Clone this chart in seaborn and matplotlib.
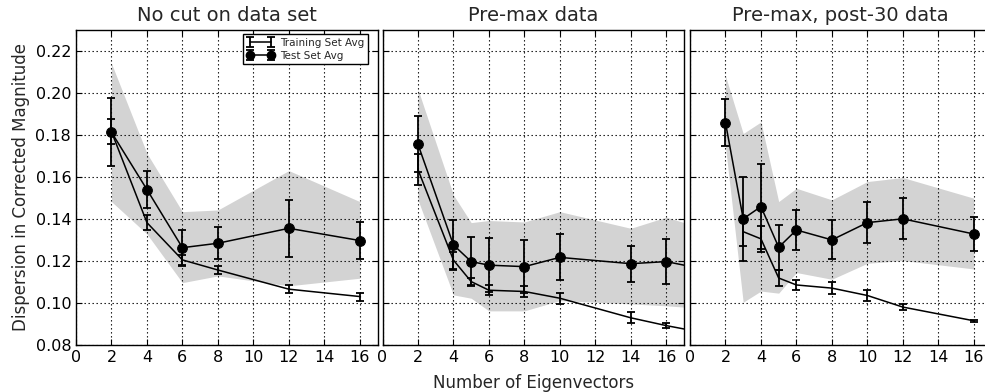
import numpy as np
import matplotlib
matplotlib.use("Agg")
import matplotlib.pyplot as plt
import seaborn as sns

# ---------------- data ----------------
titles = ["No cut on data set", "Pre-max data", "Pre-max, post-30 data"]

# Panel 1: no cut
p1_train_x = [2, 4, 6, 8, 12, 16]
p1_train_y = [0.1815, 0.1383, 0.1206, 0.1158, 0.1067, 0.1032]
p1_train_e = [0.0060, 0.0035, 0.0025, 0.0018, 0.0020, 0.0019]
p1_test_x = [2, 4, 6, 8, 12, 16]
p1_test_y = [0.1812, 0.1540, 0.1264, 0.1285, 0.1356, 0.1298]
p1_test_e = [0.0162, 0.0088, 0.0085, 0.0076, 0.0135, 0.0089]
p1_band_hi = [0.2139, 0.1712, 0.1435, 0.1443, 0.1630, 0.1483]
p1_band_lo = [0.1483, 0.1329, 0.1098, 0.1130, 0.1083, 0.1119]

# Panel 2: pre-max
p2_train_x = [2, 4, 5, 6, 8, 10, 14, 16, 18]
p2_train_y = [0.1635, 0.1205, 0.1103, 0.1062, 0.1056, 0.1024, 0.0931, 0.0894, 0.0862]
p2_train_e = [0.0075, 0.0040, 0.0015, 0.0025, 0.0025, 0.0027, 0.0027, 0.0010, 0.0]
p2_test_x = [2, 4, 5, 6, 8, 10, 14, 16, 18]
p2_test_y = [0.1755, 0.1277, 0.1198, 0.1181, 0.1174, 0.1218, 0.1188, 0.1198, 0.1164]
p2_test_e = [0.0132, 0.0120, 0.0115, 0.0128, 0.0127, 0.0109, 0.0086, 0.0106, 0.0]
p2_band_hi = [0.2016, 0.1514, 0.1383, 0.1393, 0.1386, 0.1435, 0.1356, 0.1409, 0.1357]
p2_band_lo = [0.1491, 0.1040, 0.1024, 0.0964, 0.0964, 0.1013, 0.0997, 0.0988, 0.0976]

# Panel 3: pre-max, post-30
p3_train_x = [3, 4, 5, 6, 8, 10, 12, 16]
p3_train_y = [0.1340, 0.1306, 0.1120, 0.1087, 0.1072, 0.1037, 0.0982, 0.0917]
p3_train_e = [0.0068, 0.0062, 0.0038, 0.0025, 0.0030, 0.0028, 0.0015, 0.0005]
p3_test_x = [2, 3, 4, 5, 6, 8, 10, 12, 16]
p3_test_y = [0.1858, 0.1401, 0.1459, 0.1266, 0.1348, 0.1301, 0.1383, 0.1401, 0.1329]
p3_test_e = [0.0110, 0.0198, 0.0203, 0.0107, 0.0097, 0.0093, 0.0097, 0.0097, 0.0081]
p3_band_hi = [0.2080, 0.1806, 0.1861, 0.1483, 0.1546, 0.1491, 0.1578, 0.1597, 0.1499]
p3_band_lo = [0.1745, 0.1005, 0.1058, 0.1048, 0.1146, 0.1114, 0.1190, 0.1203, 0.1163]

x_ticks = [0, 2, 4, 6, 8, 10, 12, 14, 16]
y_ticks = [0.08, 0.10, 0.12, 0.14, 0.16, 0.18, 0.20, 0.22]

panels = [
    (p1_train_x, p1_train_y, p1_train_e, p1_test_x, p1_test_y, p1_test_e, p1_band_hi, p1_band_lo),
    (p2_train_x, p2_train_y, p2_train_e, p2_test_x, p2_test_y, p2_test_e, p2_band_hi, p2_band_lo),
    (p3_train_x, p3_train_y, p3_train_e, p3_test_x, p3_test_y, p3_test_e, p3_band_hi, p3_band_lo),
]

# ---------------- style ----------------
sns.set_style("ticks")
plt.rcParams.update({
    "font.family": ["DejaVu Sans"],
    "axes.edgecolor": "black",
    "axes.linewidth": 1.0,
    "xtick.direction": "in",
    "ytick.direction": "in",
    "xtick.top": True,
    "ytick.right": True,
    "xtick.major.size": 4,
    "ytick.major.size": 4,
    "xtick.color": "black",
    "ytick.color": "black",
    "xtick.labelsize": 11.5,
    "ytick.labelsize": 11.5,
    "axes.labelsize": 12,
    "axes.titlesize": 14,
    "legend.numpoints": 2,
})

W, H = 985, 392
fig = plt.figure(figsize=(W / 100, H / 100), dpi=100)
lefts_px = [76, 382.5, 690]
width_px = 301.5
bottom = 1 - 345.4 / H
height = (345.4 - 29.5) / H

axes = []
for i, (trx, try_, tre, tex, tey, tee, bhi, blo) in enumerate(panels):
    ax = fig.add_axes([lefts_px[i] / W, bottom, width_px / W, height])
    axes.append(ax)
    ax.fill_between(tex, blo, bhi, color="#d3d3d3", lw=0, zorder=1)
    ax.grid(True, color="black", linestyle=(0, (1.2, 2.4)), linewidth=0.8, zorder=2)
    ax.set_axisbelow(False)
    sns.lineplot(x=trx, y=try_, ax=ax, color="black", lw=1.1, zorder=3, legend=False)
    sns.lineplot(x=tex, y=tey, ax=ax, color="black", lw=1.1, marker="o",
                 markersize=7, markeredgecolor="black", zorder=4, legend=False)
    ax.errorbar(trx, try_, yerr=tre, fmt="none", ecolor="black", elinewidth=1.3,
                capsize=3.2, capthick=1.3, zorder=3)
    ax.errorbar(tex, tey, yerr=tee, fmt="none", ecolor="black", elinewidth=1.3,
                capsize=3.2, capthick=1.3, zorder=4)
    ax.set_xlim(0, 17)
    ax.set_ylim(0.08, 0.23)
    ax.set_xticks(x_ticks)
    ax.set_yticks(y_ticks)
    ax.set_xticklabels([str(t) for t in x_ticks])
    if i == 0:
        ax.set_yticklabels([f"{t:.2f}" for t in y_ticks])
        ax.set_ylabel("Dispersion in Corrected Magnitude")
    else:
        ax.set_yticklabels([])
        ax.set_ylabel("")
    if i == 1:
        ax.set_xlabel("Number of Eigenvectors", labelpad=6)
    else:
        ax.set_xlabel("")
    ax.set_title(titles[i], pad=6)
    for sp in ax.spines.values():
        sp.set_visible(True)
        sp.set_color("black")
        sp.set_zorder(6)

# legend proxies in first panel
ax0 = axes[0]
h1 = ax0.errorbar([np.nan], [np.nan], yerr=[np.nan], fmt="-", color="black", lw=1.1,
                  elinewidth=1.3, capsize=3.2, capthick=1.3, label="Training Set Avg")
h2 = ax0.errorbar([np.nan], [np.nan], yerr=[np.nan], fmt="-o", color="black", lw=1.1,
                  markersize=6, elinewidth=1.3, capsize=3.2, capthick=1.3, label="Test Set Avg")
leg = ax0.legend(handles=[h1, h2], loc="upper right", bbox_to_anchor=(0.9685, 0.9858),
                 borderaxespad=0, fontsize=7.5, fancybox=False, framealpha=1,
                 edgecolor="black", handlelength=2.6, borderpad=0.35, labelspacing=0.3,
                 handletextpad=0.6)
leg.get_frame().set_linewidth(1.0)
leg.set_zorder(10)

fig.savefig("out.png", dpi=100)
